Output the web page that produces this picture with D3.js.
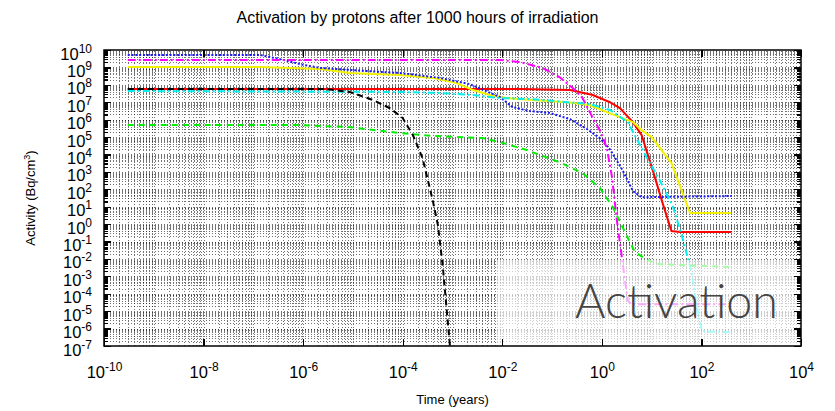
<!DOCTYPE html>
<meta charset="utf-8">
<style>
body { margin: 0; background: #fff; }
text { font-family: Arial, "Liberation Sans", Helvetica, sans-serif; }
.grid line { stroke: #000; stroke-opacity: 0.55; stroke-width: 1; stroke-dasharray: 1,2; shape-rendering: crispEdges; }
.grid path, .axis path { display: none; }
.axis line { stroke: #000; stroke-width: 1.2; shape-rendering: crispEdges; }
.series { fill: none; stroke-width: 2; }
</style>
<body>
<div id="chart"></div>
<script src="https://d3js.org/d3.v7.min.js"></script>
<script>

var width = 835,
    height = 411;

var m = {left: 104, right: 801, top: 50, bottom: 346};

// tick exponents
var xTickExp = [-10, -8, -6, -4, -2, 0, 2, 4];
var yTickExp = [-7, -6, -5, -4, -3, -2, -1, 0, 1, 2, 3, 4, 5, 6, 7, 8, 9, 10];

// time (years) and activity (Bq/cm3) per curve
var tBlue = [3e-10, 1.35e-7, 3.4e-7, 1e-6, 2.2e-6, 3.5e-5, 8.8e-5, 5.6e-4, 2.2e-3, 9e-3, 1.6e-2, 3.6e-2, 9e-2, 0.23, 0.5, 0.91, 1.45, 2.6, 4.2, 6.3, 400];
var aBlue = [5.2e9, 5.2e9, 3.0e9, 1.4e9, 9.3e8, 5.5e8, 4.8e8, 2.5e8, 1.1e8, 2.0e7, 5.3e6, 3.1e6, 2.4e6, 1.07e6, 2.9e5, 8.7e4, 2.0e4, 1.26e3, 79, 35, 41];

var tMagenta = [3e-10, 9e-3, 2.3e-2, 6.5e-2, 0.14, 0.26, 0.41, 0.66, 0.95, 1.26, 1.6, 2.0, 2.6, 3.3, 3.8, 400];
var aMagenta = [2.7e9, 2.7e9, 2.0e9, 9.3e8, 2.8e8, 6.6e7, 1.74e7, 1.23e6, 2.0e5, 2.3e4, 500, 1.7, 6.6e-3, 4.3e-5, 2.5e-5, 2.5e-5];

var tYellow = [3e-10, 1.35e-7, 2.2e-6, 8.7e-6, 8.8e-5, 4e-4, 1.2e-3, 2.6e-3, 5.6e-3, 1.2e-2, 4.1e-2, 0.2, 0.57, 1.26, 2.6, 4.2, 6.3, 10, 25, 59, 400];
var aYellow = [1.05e9, 1.05e9, 8.2e8, 4.8e8, 3.7e8, 2.5e8, 1.26e8, 5.0e7, 2.6e7, 1.74e7, 1.35e7, 1.0e7, 6.9e6, 2.7e6, 1.23e6, 7.2e5, 2.5e5, 1.0e5, 3.2e3, 4.3, 4.3];

var tRed = [3e-10, 2.3e-2, 0.23, 0.66, 1.45, 2.3, 4.2, 6.3, 10.5, 16.6, 25, 37, 400];
var aRed = [5.7e7, 5.7e7, 5.0e7, 2.6e7, 1.0e7, 4.6e6, 7.2e5, 1.3e5, 1.26e3, 16, 0.40, 0.35, 0.35];

var tCyan = [3e-10, 8.8e-5, 5.6e-4, 2.6e-3, 9e-3, 4.1e-2, 0.2, 0.57, 1.45, 3.3, 7.9, 14.5, 27, 43, 64, 81, 102, 400];
var aCyan = [4.4e7, 3.9e7, 3.4e7, 2.6e7, 1.74e7, 1.5e7, 1.0e7, 7.9e6, 3.6e6, 7.2e5, 7.1e3, 340, 9.5, 0.12, 1.5e-3, 1.7e-5, 7.1e-7, 6.2e-7];

var tBlack = [3e-10, 3e-6, 8.7e-6, 2.5e-5, 5.5e-5, 1e-4, 1.6e-4, 2.5e-4, 4e-4, 5.1e-4, 6.4e-4, 8.9e-4];
var aBlack = [5.7e7, 5.7e7, 3.9e7, 1.35e7, 4.6e6, 1.23e6, 1.3e5, 6.2e3, 24, 0.87, 3.4e-3, 1e-7];

var tGreen = [3e-10, 8.7e-7, 8.7e-6, 8.8e-5, 4e-4, 4.1e-3, 9e-3, 3.1e-2, 0.14, 0.41, 0.91, 1.66, 3.2, 4.6, 8.3, 14.5, 400];
var aGreen = [4.9e5, 4.9e5, 3.7e5, 1.7e5, 1.15e5, 8.7e4, 5.1e4, 1.8e4, 3.6e3, 850, 118, 9.5, 0.20, 0.025, 8.5e-3, 5.0e-3, 3.4e-3];

var series = [
  {t: tRed, a: aRed, color: "#ff0000", dash: null, w: 2},
  {t: tYellow, a: aYellow, color: "#f2f200", dash: null, w: 2},
  {t: tBlue, a: aBlue, color: "#1a1aff", dash: "2,1.8", w: 2.5},
  {t: tMagenta, a: aMagenta, color: "#ff00ff", dash: "8,3,2,3", w: 2},
  {t: tCyan, a: aCyan, color: "#00f0f0", dash: "7,3,2,3", w: 2},
  {t: tGreen, a: aGreen, color: "#00ee00", dash: "6,5", w: 2},
  {t: tBlack, a: aBlack, color: "#000000", dash: "6,4", w: 2}
];

var x = d3.scaleLog().domain([1e-10, 1e4]).range([m.left, m.right]);
var y = d3.scaleLog().domain([1e-7, 1e10]).range([m.bottom, m.top]);

var xMajor = xTickExp.map(function(e) { return Math.pow(10, e); });
var yMajor = yTickExp.map(function(e) { return Math.pow(10, e); });

var xGrid = [], yGrid = [], yMinor = [];
for (var d = -10; d < 4; d++)
  for (var k = 1; k < 10; k++) xGrid.push(k * Math.pow(10, d));
for (var d = -7; d < 10; d++)
  for (var k = 1; k < 10; k++) {
    yGrid.push(k * Math.pow(10, d));
    if (k > 1) yMinor.push(k * Math.pow(10, d));
  }

var svg = d3.select("#chart").append("svg")
    .attr("width", width)
    .attr("height", height);

svg.append("clipPath").attr("id", "plot")
  .append("rect")
    .attr("x", m.left).attr("y", m.top)
    .attr("width", m.right - m.left).attr("height", m.bottom - m.top);

// grid
svg.append("g").attr("class", "grid")
    .attr("transform", "translate(0," + m.bottom + ")")
    .call(d3.axisBottom(x).tickValues(xGrid.slice(1)).tickSize(-(m.bottom - m.top)).tickFormat(""));
svg.append("g").attr("class", "grid")
    .attr("transform", "translate(" + m.left + ",0)")
    .call(d3.axisLeft(y).tickValues(yGrid.slice(1)).tickSize(-(m.right - m.left)).tickFormat(""));

// curves
var line = d3.line()
    .x(function(p) { return x(p[0]); })
    .y(function(p) { return y(p[1]); });

svg.append("g").attr("clip-path", "url(#plot)")
  .selectAll("path")
  .data(series)
  .enter().append("path")
    .attr("class", "series")
    .attr("d", function(s) { return line(d3.zip(s.t, s.a)); })
    .attr("stroke", function(s) { return s.color; })
    .attr("stroke-width", function(s) { return s.w; })
    .attr("stroke-dasharray", function(s) { return s.dash; });

// watermark
svg.append("rect")
    .attr("x", 497).attr("y", 260)
    .attr("width", m.right - 497).attr("height", m.bottom - 260)
    .attr("fill", "#fff").attr("opacity", 0.65);

svg.append("text")
    .attr("x", 575).attr("y", 318)
    .attr("textLength", 203)
    .attr("lengthAdjust", "spacingAndGlyphs")
    .style("font-family", "Lato, 'Open Sans', sans-serif")
    .style("font-weight", 300)
    .style("font-size", "47px")
    .attr("fill", "#444")
    .text("Activation");

// frame
svg.append("rect")
    .attr("x", m.left).attr("y", m.top)
    .attr("width", m.right - m.left).attr("height", m.bottom - m.top)
    .attr("fill", "none").attr("stroke", "#000").attr("stroke-width", 1.5);

function powLabels(g) {
  g.attr("font-size", null).attr("font-family", null);
  g.selectAll("text").each(function(v) {
    var t = d3.select(this).text(null).style("font-size", "16.5px");
    t.append("tspan").text("10");
    t.append("tspan").attr("dy", "-7px").style("font-size", "12px")
      .text(Math.round(Math.log10(v)));
  });
}

// y axes
svg.append("g").attr("class", "axis")
    .attr("transform", "translate(" + m.left + ",0)")
    .call(d3.axisLeft(y).tickValues(yMinor).tickSize(-4).tickFormat(""));
svg.append("g").attr("class", "axis")
    .attr("transform", "translate(" + m.left + ",0)")
    .call(d3.axisLeft(y).tickValues(yMajor).tickSize(-7).tickPadding(12))
    .call(powLabels)
    .selectAll("text").attr("dy", "9px");
svg.append("g").attr("class", "axis")
    .attr("transform", "translate(" + m.right + ",0)")
    .call(d3.axisRight(y).tickValues(yMinor).tickSize(-4).tickFormat(""));
svg.append("g").attr("class", "axis")
    .attr("transform", "translate(" + m.right + ",0)")
    .call(d3.axisRight(y).tickValues(yMajor).tickSize(-7).tickFormat(""));

// x axes
svg.append("g").attr("class", "axis")
    .attr("transform", "translate(0," + m.bottom + ")")
    .call(d3.axisBottom(x).tickValues(xMajor).tickSize(-7))
    .call(powLabels)
    .selectAll("text").attr("y", 32).attr("dy", null);
svg.append("g").attr("class", "axis")
    .attr("transform", "translate(0," + m.top + ")")
    .call(d3.axisTop(x).tickValues(xMajor).tickSize(-7).tickFormat(""));

// titles
svg.append("text")
    .attr("x", width / 2).attr("y", 23)
    .attr("text-anchor", "middle")
    .style("font-size", "16px")
    .text("Activation by protons after 1000 hours of irradiation");

svg.append("text")
    .attr("x", (m.left + m.right) / 2).attr("y", 404)
    .attr("text-anchor", "middle")
    .style("font-size", "13px")
    .text("Time (years)");

var yl = svg.append("text")
    .attr("transform", "translate(35," + (m.top + m.bottom) / 2 + ") rotate(-90)")
    .attr("text-anchor", "middle")
    .style("font-size", "13px");
yl.append("tspan").text("Activity (Bq/cm");
yl.append("tspan").attr("dy", "-5px").style("font-size", "9px").text("3");
yl.append("tspan").attr("dy", "5px").text(")");

</script>
